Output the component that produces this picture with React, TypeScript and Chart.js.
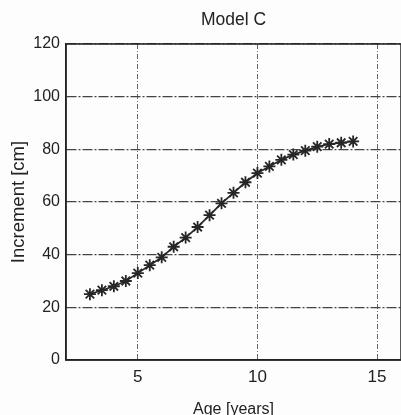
import React, { useEffect, useRef } from "react";
import { Chart, registerables } from "chart.js";

Chart.register(...registerables);

const ages = [3, 3.5, 4, 4.5, 5, 5.5, 6, 6.5, 7, 7.5, 8, 8.5, 9, 9.5, 10, 10.5, 11, 11.5, 12, 12.5, 13, 13.5, 14];
const increments = [25, 26.5, 28, 30, 33, 36, 39, 43, 46.5, 50.5, 55, 59.5, 63.5, 67.5, 71, 73.5, 76, 78, 79.5, 81, 82, 82.5, 83];
const xTicks = [5, 10, 15];
const yTicks = [0, 20, 40, 60, 80, 100, 120];

const FONT = "'Liberation Sans', Arial, Helvetica, sans-serif";

const framePlugin = {
  id: "frame",
  afterDatasetsDraw(chart: any) {
    const { ctx, chartArea } = chart;
    ctx.save();
    ctx.strokeStyle = "#222";
    ctx.lineWidth = 1.5;
    ctx.strokeRect(chartArea.left, chartArea.top, chartArea.right - chartArea.left, chartArea.bottom - chartArea.top);
    ctx.restore();
  },
};

const bgPlugin = {
  id: "bg",
  beforeDraw(chart: any) {
    const { ctx, width, height } = chart;
    ctx.save();
    ctx.fillStyle = "#fdfdfd";
    ctx.fillRect(0, 0, width, height);
    ctx.restore();
  },
};

export default function App() {
  const ref = useRef<HTMLCanvasElement | null>(null);

  useEffect(() => {
    if (!ref.current) return;
    const chart = new Chart(ref.current, {
      type: "line",
      data: {
        datasets: [
          {
            data: ages.map((a, i) => ({ x: a, y: increments[i] })),
            borderColor: "#262626",
            borderWidth: 1.7,
            pointStyle: "star",
            pointRadius: 6,
            pointBorderWidth: 1.8,
            pointBorderColor: "#262626",
            pointBackgroundColor: "#262626",
            tension: 0,
            fill: false,
          },
        ],
      },
      options: {
        responsive: false,
        animation: false,
        layout: { autoPadding: false, padding: { left: 8, right: 0, top: 0, bottom: 0 } },
        plugins: {
          legend: { display: false },
          tooltip: { enabled: false },
          title: {
            display: true,
            text: "Model C",
            fullSize: false,
            color: "#222",
            font: { family: FONT, size: 17.5, weight: "normal", lineHeight: 1.2 },
            padding: { top: 9.5, bottom: 13.5 },
          },
        },
        scales: {
          x: {
            type: "linear",
            min: 2,
            max: 16,
            afterBuildTicks: (scale: any) => {
              scale.ticks = xTicks.map((v) => ({ value: v }));
            },
            afterFit: (scale: any) => {
              scale.height = 55;
              scale.paddingLeft = 0;
              scale.paddingRight = 0;
            },
            ticks: {
              color: "#222",
              padding: 7,
              font: { family: FONT, size: 17 },
              maxRotation: 0,
            },
            grid: {
              color: "#666",
              lineWidth: 1,
              drawTicks: false,
            },
            border: { display: true, color: "#222", width: 1.5, dash: [5, 2, 1, 2] },
            title: {
              display: true,
              text: "Age [years]",
              color: "#222",
              font: { family: FONT, size: 16, lineHeight: 1 },
              padding: { top: 0, bottom: -3 },
            },
          },
          y: {
            type: "linear",
            min: 0,
            max: 120,
            afterBuildTicks: (scale: any) => {
              scale.ticks = yTicks.map((v) => ({ value: v }));
            },
            afterFit: (scale: any) => {
              scale.width = 58;
            },
            ticks: {
              color: "#222",
              padding: 6,
              font: { family: FONT, size: 16 },
            },
            grid: {
              color: "#444",
              lineWidth: 1.2,
              drawTicks: false,
            },
            border: { display: true, color: "#222", width: 1.5, dash: [10, 2, 2, 2] },
            title: {
              display: true,
              text: "Increment [cm]",
              color: "#222",
              font: { family: FONT, size: 18.5, lineHeight: 1.2 },
              padding: { top: 0, bottom: 0 },
            },
          },
        },
      },
      plugins: [bgPlugin, framePlugin],
    });
    return () => chart.destroy();
  }, []);

  return (
    <div style={{ position: "fixed", left: 0, top: 0, width: 401, height: 415, overflow: "hidden" }}>
      <canvas ref={ref} width={401} height={415} style={{ display: "block", width: 401, height: 415 }} />
    </div>
  );
}
